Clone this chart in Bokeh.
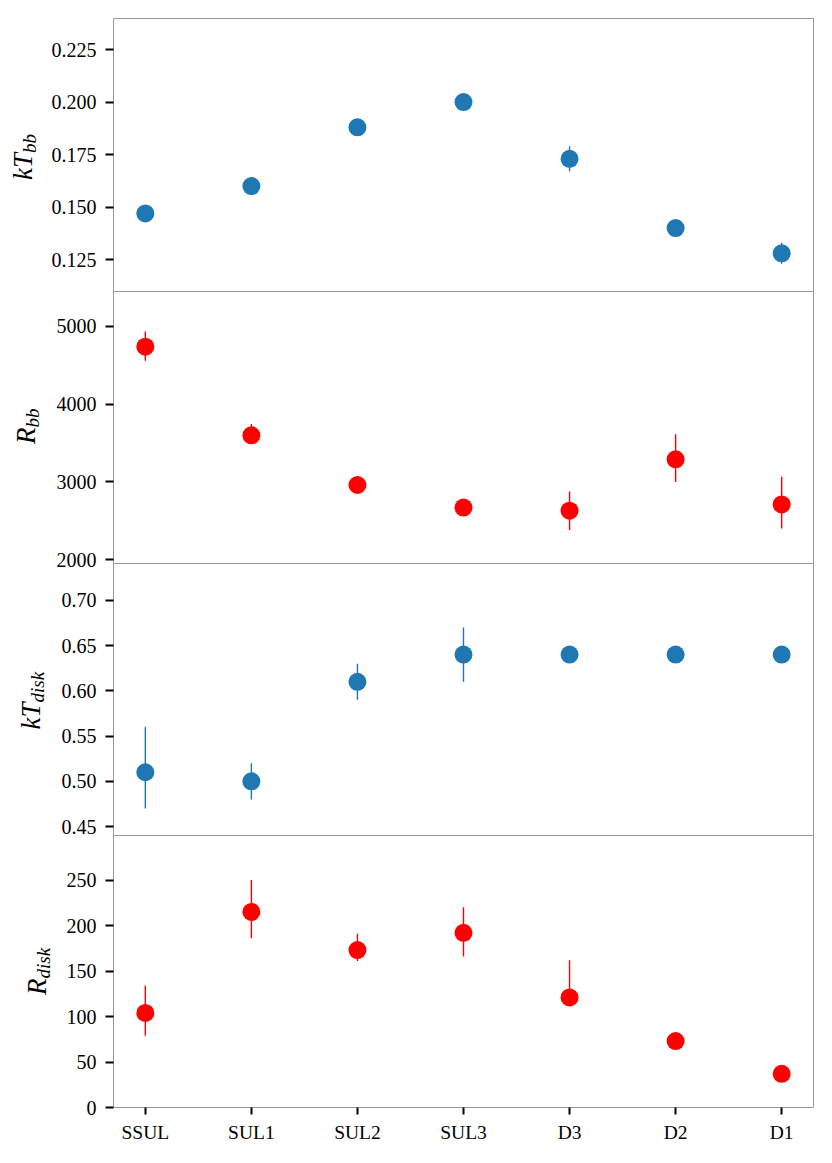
import math
from bokeh.plotting import figure
from bokeh.layouts import column, row
from bokeh.models import Range1d, FixedTicker, ColumnDataSource
from bokeh.core.properties import value
from bokeh.embed import file_html
from bokeh.resources import INLINE

# ---------------- data ----------------
states = ["SSUL", "SUL1", "SUL2", "SUL3", "D3", "D2", "D1"]
xpos = list(range(len(states)))

kT_bb = [0.147, 0.160, 0.188, 0.200, 0.173, 0.140, 0.128]
kT_bb_lo = [0.1455, 0.1585, 0.1865, 0.1985, 0.167, 0.1385, 0.123]
kT_bb_hi = [0.1485, 0.1615, 0.1895, 0.2015, 0.179, 0.1415, 0.133]

R_bb = [4740, 3600, 2960, 2670, 2630, 3290, 2710]
R_bb_lo = [4560, 3490, 2900, 2620, 2380, 3000, 2400]
R_bb_hi = [4935, 3745, 3020, 2720, 2875, 3612, 3065]

kT_disk = [0.51, 0.50, 0.61, 0.64, 0.64, 0.64, 0.64]
kT_disk_lo = [0.47, 0.48, 0.59, 0.61, 0.637, 0.637, 0.637]
kT_disk_hi = [0.56, 0.52, 0.63, 0.67, 0.643, 0.643, 0.643]

R_disk = [104, 215, 173, 192, 121, 73, 37]
R_disk_lo = [79, 186, 161, 166, 112, 70, 35]
R_disk_hi = [134, 250, 191, 220, 162, 76, 39]

BLUE = "#1f77b4"
RED = "#ff0000"
FONT = "Liberation Serif"

panels = [
    dict(y=kT_bb, lo=kT_bb_lo, hi=kT_bb_hi, color=BLUE, yr=(0.1098, 0.2398),
         ticks=[0.125, 0.150, 0.175, 0.200, 0.225], fmt="{:.3f}", main="kT", sub="bb"),
    dict(y=R_bb, lo=R_bb_lo, hi=R_bb_hi, color=RED, yr=(1950, 5450),
         ticks=[2000, 3000, 4000, 5000], fmt="{:d}", main="R", sub="bb"),
    dict(y=kT_disk, lo=kT_disk_lo, hi=kT_disk_hi, color=BLUE, yr=(0.4401, 0.7407),
         ticks=[0.45, 0.50, 0.55, 0.60, 0.65, 0.70], fmt="{:.2f}", main="kT", sub="disk"),
    dict(y=R_disk, lo=R_disk_lo, hi=R_disk_hi, color=RED, yr=(0, 299),
         ticks=[0, 50, 100, 150, 200, 250], fmt="{:d}", main="R", sub="disk"),
]

# label placement (px): vertical anchor relative to frame centre, x of main / subscript
label_offsets = [2, 0, -3, -7]
label_x_main = [22.5, 25.5, 30.5, 36.5]
label_x_sub = [28.5, 31.5, 36.5, 42.5]

LEFT = 113      # page x of the frames' left edge
LBL_W = 72      # width of the strip holding the rotated y labels
OVER = 32       # the panel overlaps the strip by this many px (transparent border)
PAD = 20        # overlap border so tick labels can cross panel edges
BOTTOM = 45

rows = []
n = len(panels)
for i, pd in enumerate(panels):
    last = (i == n - 1)
    fh = 273 if i == 0 else 272
    top_b = 18 if i == 0 else PAD
    bot_b = BOTTOM if last else PAD

    p = figure(
        frame_width=700, frame_height=fh,
        x_range=Range1d(-0.3, 6.3), y_range=Range1d(*pd["yr"]),
        output_backend="svg", toolbar_location=None,
        min_border_left=LEFT - LBL_W + OVER, min_border_right=10,
        min_border_top=top_b, min_border_bottom=bot_b,
    )
    p.styles = {"margin-left": f"-{OVER}px"}
    p.outline_line_color = "#999999"
    p.outline_line_width = 1
    p.xgrid.visible = False
    p.ygrid.visible = False
    p.background_fill_color = "white"
    p.border_fill_color = None
    p.border_fill_alpha = 0

    src = ColumnDataSource(dict(x=xpos, y=pd["y"], lo=pd["lo"], hi=pd["hi"]))
    p.segment(x0="x", y0="lo", x1="x", y1="hi", source=src,
              line_color=pd["color"], line_width=1.4)
    p.scatter(x="x", y="y", source=src, size=18, fill_color=pd["color"],
              line_color=pd["color"], line_width=0)

    ya = p.yaxis[0]
    ya.ticker = FixedTicker(ticks=pd["ticks"])
    ya.major_label_overrides = {t: pd["fmt"].format(t) for t in pd["ticks"]}
    ya.axis_line_color = None
    ya.major_tick_line_color = "black"
    ya.major_tick_line_width = 2
    ya.major_tick_out = 8
    ya.major_tick_in = 0
    ya.minor_tick_line_color = None
    ya.major_label_standoff = 9
    ya.major_label_text_font = FONT
    ya.major_label_text_font_size = "20px"
    ya.major_label_text_color = "black"

    xa = p.xaxis[0]
    if last:
        xa.ticker = FixedTicker(ticks=xpos)
        xa.major_label_overrides = {k: s for k, s in zip(xpos, states)}
        xa.axis_line_color = None
        xa.major_tick_line_color = "black"
        xa.major_tick_line_width = 2
        xa.major_tick_out = 7
        xa.major_tick_in = 0
        xa.minor_tick_line_color = None
        xa.major_label_standoff = 7
        xa.major_label_text_font = FONT
        xa.major_label_text_font_size = "19.5px"
        xa.major_label_text_color = "black"
    else:
        xa.visible = False

    # strip with the rotated y-axis label (main text + subscript);
    # its frame has the same vertical geometry and y range as the panel
    lbl = figure(
        frame_width=LBL_W, frame_height=fh,
        x_range=Range1d(0, LBL_W), y_range=Range1d(*pd["yr"]),
        output_backend="svg", toolbar_location=None,
        x_axis_type=None, y_axis_type=None,
        min_border_left=0, min_border_right=0,
        min_border_top=top_b, min_border_bottom=bot_b,
    )
    lbl.outline_line_color = None
    lbl.xgrid.visible = False
    lbl.ygrid.visible = False
    lbl.background_fill_color = None
    lbl.border_fill_color = None
    ymid = 0.5 * (pd["yr"][0] + pd["yr"][1])
    off = label_offsets[i]
    lbl.text(x=[label_x_main[i]], y=[ymid], text=[pd["main"]], angle=math.pi / 2,
             y_offset=-off,
             text_align="right", text_baseline="alphabetic",
             text_font=value(FONT), text_font_style=value("italic"),
             text_font_size=value("27px"), text_color="black")
    lbl.text(x=[label_x_sub[i]], y=[ymid], text=[pd["sub"]], angle=math.pi / 2,
             y_offset=-off,
             text_align="left", text_baseline="alphabetic",
             text_font=value(FONT), text_font_style=value("italic"),
             text_font_size=value("19px"), text_color="black")

    r = row(lbl, p, spacing=0)
    if i > 0:
        r.styles = {"margin-top": f"-{2 * PAD}px"}
    rows.append(r)

layout = column(*rows, spacing=0)
open("out.html", "w").write(file_html(layout, INLINE))
